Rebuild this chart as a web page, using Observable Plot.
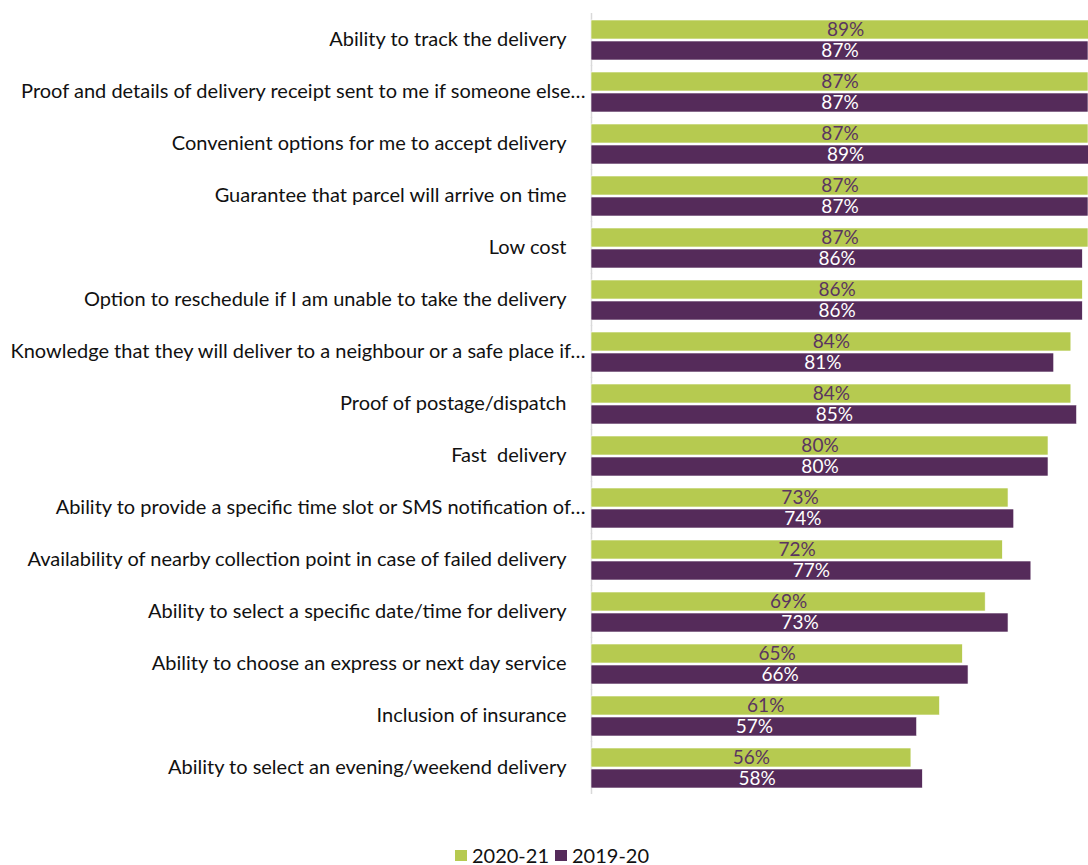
<!DOCTYPE html>
<html>
<head>
<meta charset="utf-8">
<script src="https://cdn.jsdelivr.net/npm/d3@7"></script>
<script src="https://cdn.jsdelivr.net/npm/@observablehq/plot@0.6"></script>
<style>
  html, body { margin: 0; background: #fff; font-family: Lato, "Open Sans", sans-serif; overflow: hidden; }
  #chart svg { display: block; }
  #legend { display: flex; justify-content: center; align-items: center; gap: 6px; font-size: 20px; line-height: 20px; height: 20px; color: #111; padding-left: 16px; margin-top: 12px; }
  #legend .item { display: flex; align-items: center; gap: 5px; }
  #legend .sw { width: 12px; height: 11px; display: inline-block; }
</style>
</head>
<body>
<div id="chart"></div>
<div id="legend"></div>
<script>
const categories = [
  "Ability to track the delivery",
  "Proof and details of delivery receipt sent to me if someone else…",
  "Convenient options for me to accept delivery",
  "Guarantee that parcel will arrive on time",
  "Low cost",
  "Option to reschedule if I am unable to take the delivery",
  "Knowledge that they will deliver to a neighbour or a safe place if…",
  "Proof of postage/dispatch",
  "Fast  delivery",
  "Ability to provide a specific time slot or SMS notification of…",
  "Availability of nearby collection point in case of failed delivery",
  "Ability to select a specific date/time for delivery",
  "Ability to choose an express or next day service",
  "Inclusion of insurance",
  "Ability to select an evening/weekend delivery"
];
const series = ["2020-21", "2019-20"];
const values2020_21 = [89, 87, 87, 87, 87, 86, 84, 84, 80, 73, 72, 69, 65, 61, 56];
const values2019_20 = [87, 87, 89, 87, 86, 86, 81, 85, 80, 74, 77, 73, 66, 57, 58];
const colors = ["#B6CA50", "#552B5A"];

const data = [];
categories.forEach((c, i) => {
  data.push({category: c, series: series[0], value: values2020_21[i]});
  data.push({category: c, series: series[1], value: values2019_20[i]});
});

const truncated = categories.filter(c => c.endsWith("…"));
const plain = categories.filter(c => !c.endsWith("…"));

const chart = Plot.plot({
  width: 1088,
  height: 833,
  marginLeft: 591,
  marginRight: 0,
  marginTop: 12,
  marginBottom: 38,
  style: {fontFamily: "Lato, 'Open Sans', sans-serif", background: "#fff"},
  x: {domain: [0, 87], axis: null},
  fy: {domain: categories, paddingInner: 0.21, paddingOuter: 0.105, label: null},
  y: {domain: series, axis: null, paddingInner: 0.1, paddingOuter: 0},
  color: {domain: series, range: colors},
  marks: [
    Plot.ruleX([0], {stroke: "#d9d9d9", strokeWidth: 1.5, insetTop: -6, insetBottom: -6}),
    Plot.barX(data, {x: "value", y: "series", fy: "category", fill: "series", stroke: "#ffffff", strokeWidth: 0.6, clip: true}),
    Plot.text(data.filter(d => d.series === series[0]), {x: d => d.value / 2, y: "series", fy: "category", text: d => d.value + "%", fill: "#5A3560", fontSize: 19}),
    Plot.text(data.filter(d => d.series === series[1]), {x: d => d.value / 2, y: "series", fy: "category", text: d => d.value + "%", fill: "#ffffff", fontSize: 19}),
    Plot.axisFy({ticks: plain, anchor: "left", tickSize: 0, tickPadding: 25, fontSize: 20, fill: "#111", label: null}),
    Plot.axisFy({ticks: truncated, anchor: "left", tickSize: 0, tickPadding: 6, fontSize: 20, fill: "#111", label: null})
  ]
});
document.getElementById("chart").appendChild(chart);

const legend = document.getElementById("legend");
series.forEach((s, i) => {
  const item = document.createElement("span");
  item.className = "item";
  const sw = document.createElement("span");
  sw.className = "sw";
  sw.style.background = colors[i];
  item.appendChild(sw);
  item.appendChild(document.createTextNode(s));
  legend.appendChild(item);
});
</script>
</body>
</html>
